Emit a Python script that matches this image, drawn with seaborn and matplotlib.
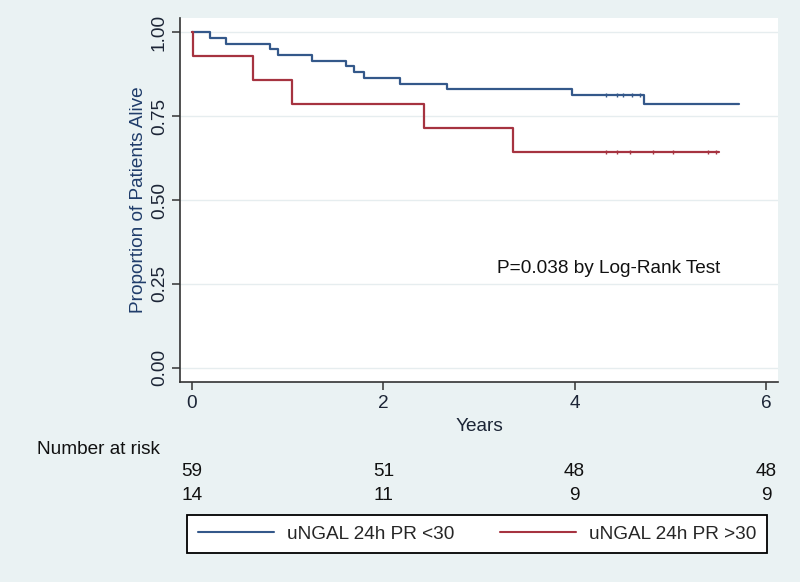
import numpy as np
import pandas as pd
import matplotlib.pyplot as plt
import matplotlib.transforms as mtransforms
import seaborn as sns

# Kaplan-Meier steps (years, proportion alive)
low_time = [0, 0.19, 0.355, 0.82, 0.90, 1.25, 1.61, 1.69, 1.80, 2.17, 2.67, 3.97, 4.72, 5.72]
low_surv = [1.0, 0.983, 0.966, 0.949, 0.932, 0.915, 0.898, 0.881, 0.864, 0.847, 0.830, 0.814, 0.786, 0.786]
high_time = [0, 0.01, 0.64, 1.05, 2.42, 3.36, 5.51]
high_surv = [1.0, 0.929, 0.857, 0.786, 0.714, 0.643, 0.643]

# censored observations (years)
low_cens = [4.33, 4.44, 4.51, 4.60, 4.68]
high_cens = [4.33, 4.44, 4.58, 4.82, 5.03, 5.39, 5.48]

groups = ['uNGAL 24h PR <30', 'uNGAL 24h PR >30']
risk_times = [0, 2, 4, 6]
risk_low = [59, 51, 48, 48]
risk_high = [14, 11, 9, 9]

colors = ['#34588a', '#a63340']
bg = '#eaf2f3'
txt = '#1c2536'
fs = 13.7

sns.set_style('white')
plt.rcParams['font.family'] = ['Liberation Sans', 'DejaVu Sans']

df = pd.concat([
    pd.DataFrame({'time': low_time, 'surv': low_surv, 'group': groups[0]}),
    pd.DataFrame({'time': high_time, 'surv': high_surv, 'group': groups[1]}),
])

fig = plt.figure(figsize=(8, 5.82), dpi=100, facecolor=bg)
ax = fig.add_axes([0.225, 0.3436, 0.7475, 0.6254])
ax.set_facecolor('white')

sns.lineplot(data=df, x='time', y='surv', hue='group', palette=colors,
             drawstyle='steps-post', estimator=None, sort=False,
             linewidth=1.6, ax=ax)

# censor ticks on the flat part of each curve
for t, s, cens, c in [(low_time, low_surv, low_cens, colors[0]),
                      (high_time, high_surv, high_cens, colors[1])]:
    idx = np.searchsorted(t, cens, side='right') - 1
    ax.plot(cens, np.array(s)[idx], linestyle='none', marker='|',
            markersize=3.5, markeredgewidth=1.0, color=c)

ax.set_xlim(-0.125, 6.125)
ax.set_ylim(-0.042, 1.042)
ax.set_xticks(risk_times)
ax.set_yticks([0, 0.25, 0.5, 0.75, 1.0])
ax.set_yticklabels(['0.00', '0.25', '0.50', '0.75', '1.00'], rotation=90, va='center')
ax.yaxis.grid(True, color='#e6edef', linewidth=1)
ax.xaxis.grid(False)
ax.tick_params(axis='both', direction='out', length=6, width=1.1, color='#333333',
               labelsize=fs, labelcolor=txt, bottom=True, left=True)
ax.tick_params(axis='y', pad=2.8)
ax.tick_params(axis='x', pad=3)
for side in ['top', 'right']:
    ax.spines[side].set_visible(False)
for side in ['left', 'bottom']:
    ax.spines[side].set_color('#333333')
    ax.spines[side].set_linewidth(1.2)

ax.set_xlabel('Years', fontsize=fs, color=txt, labelpad=5)
ax.set_ylabel('Proportion of Patients Alive', fontsize=fs, color='#1f3c6a', labelpad=2.5)

ax.text(5.52, 0.295, 'P=0.038 by Log-Rank Test', ha='right', va='center',
        fontsize=fs, color='#111111')

# number at risk table
trans = mtransforms.blended_transform_factory(ax.transData, fig.transFigure)
fig.text(37 / 800, 1 - 449 / 582, 'Number at risk', ha='left', va='center',
         fontsize=fs, color='#111111')
for t, n1, n2 in zip(risk_times, risk_low, risk_high):
    ax.text(t, 1 - 472 / 582, str(n1), transform=trans, ha='center', va='center',
            fontsize=fs, color='#111111')
    ax.text(t, 1 - 495 / 582, str(n2), transform=trans, ha='center', va='center',
            fontsize=fs, color='#111111')

sns.move_legend(ax, 'center', bbox_to_anchor=(0.497, -0.4176), ncol=2, title=None,
                frameon=True, fancybox=False, framealpha=1, fontsize=fs,
                handlelength=4.0, handletextpad=0.7, columnspacing=2.4,
                borderpad=0.55, borderaxespad=0, edgecolor='black')
leg = ax.get_legend()
leg.get_frame().set_linewidth(1.3)
for h in leg.legend_handles:
    h.set_linewidth(1.5)

fig.savefig('out.png', dpi=100, facecolor=bg)
